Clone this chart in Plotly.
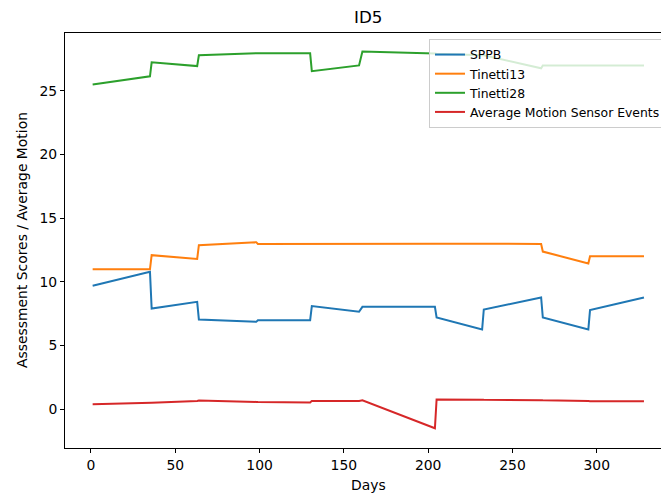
import plotly.graph_objects as go

days = [1, 35, 36, 63, 64, 98, 99, 130, 131, 159, 161, 204, 205, 232, 233, 267, 268, 295, 296, 328]
sppb = [9.69, 10.8, 7.9, 8.43, 7.05, 6.86, 6.99, 6.99, 8.1, 7.65, 8.04, 8.04, 7.2, 6.26, 7.83, 8.77, 7.2, 6.26, 7.78, 8.77]
tinetti13 = [11.0, 11.0, 12.1, 11.8, 12.88, 13.12, 12.98, 13.0, 13.0, 13.0, 13.0, 13.0, 13.0, 13.0, 13.0, 12.98, 12.38, 11.45, 12.02, 12.02]
tinetti28 = [25.5, 26.15, 27.25, 26.95, 27.8, 27.98, 27.96, 27.95, 26.55, 27.0, 28.1, 27.93, 27.92, 27.8, 27.8, 26.78, 27.0, 27.0, 27.0, 27.0]
motion = [0.39, 0.5, 0.5, 0.65, 0.68, 0.57, 0.56, 0.52, 0.65, 0.65, 0.7, -1.5, 0.76, 0.75, 0.74, 0.71, 0.7, 0.64, 0.63, 0.62]

series_names = ["SPPB", "Tinetti13", "Tinetti28", "Average Motion Sensor Events"]
series_values = [sppb, tinetti13, tinetti28, motion]
colors = ["#1f77b4", "#ff7f0e", "#2ca02c", "#d62728"]

FONT = "DejaVu Sans, Liberation Sans, sans-serif"
W, H = 661, 495
ML, MR, MT, MB = 65, 0, 33, 47

fig = go.Figure()
for name, vals, c in zip(series_names, series_values, colors):
    fig.add_trace(go.Scatter(x=days, y=vals, mode="lines", name=name,
                             line=dict(color=c, width=2)))

fig.update_layout(
    width=W, height=H,
    margin=dict(l=ML, r=MR, t=MT, b=MB, pad=0, autoexpand=False),
    paper_bgcolor="white", plot_bgcolor="white",
    font=dict(family=FONT, size=13.9, color="black"),
    showlegend=True,
    legend=dict(
        x=(429 - ML) / (W - ML - MR), y=1 - (39 - MT) / (H - MT - MB),
        xanchor="left", yanchor="top",
        bgcolor="rgba(255,255,255,0.8)", bordercolor="#cccccc", borderwidth=1,
        font=dict(family=FONT, size=12.4, color="black"),
        tracegroupgap=0,
    ),
)

fig.update_xaxes(
    range=[-15.4, 338.1], showgrid=False, zeroline=False,
    showline=True, linecolor="black", linewidth=1, mirror=True,
    ticks="outside", ticklen=4, tickcolor="black", tickwidth=1,
    tickvals=[0, 50, 100, 150, 200, 250, 300],
    tickfont=dict(family=FONT, size=13.9, color="black"),
)
fig.update_yaxes(
    range=[-3.05, 29.55], showgrid=False, zeroline=False,
    showline=True, linecolor="black", linewidth=1, mirror=False,
    ticks="outside", ticklen=4, tickcolor="black", tickwidth=1,
    tickvals=[0, 5, 10, 15, 20, 25],
    tickfont=dict(family=FONT, size=13.9, color="black"),
)

pw = W - ML - MR
ph = H - MT - MB
fig.add_annotation(text="ID5", xref="paper", yref="paper",
                   x=(368 - ML) / pw, y=1 + (MT - 17) / ph, showarrow=False,
                   xanchor="center", yanchor="middle",
                   font=dict(family=FONT, size=16.7, color="black"))
fig.add_annotation(text="Days", xref="paper", yref="paper",
                   x=(368 - ML) / pw, y=-(485 - (H - MB)) / ph, showarrow=False,
                   xanchor="center", yanchor="middle",
                   font=dict(family=FONT, size=13.9, color="black"))
fig.add_annotation(text="Assessment Scores / Average Motion", xref="paper", yref="paper",
                   x=-(ML - 22) / pw, y=1 - (240 - MT) / ph, showarrow=False,
                   xanchor="center", yanchor="middle", textangle=-90,
                   font=dict(family=FONT, size=13.9, color="black"))

fig.write_html("out.html",
               config={"displayModeBar": False},
               post_script="document.body.style.margin='0';document.body.style.overflow='hidden';")
